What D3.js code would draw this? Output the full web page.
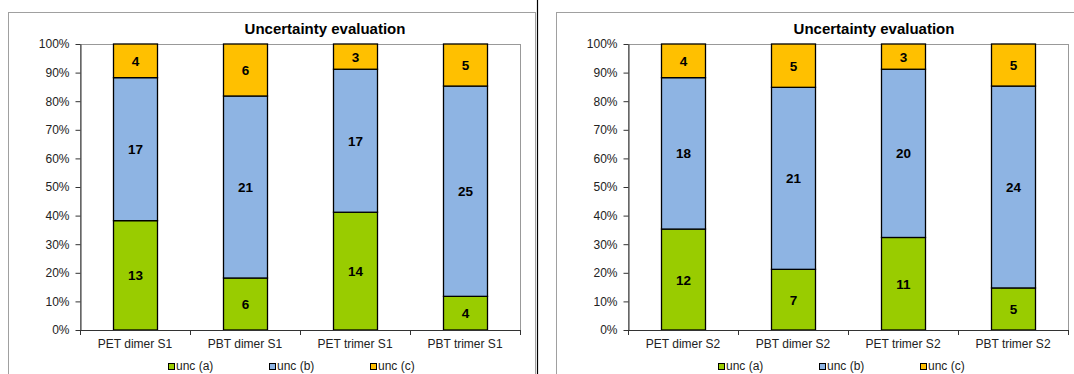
<!DOCTYPE html>
<html>
<head>
<meta charset="utf-8">
<script src="https://d3js.org/d3.v7.min.js"></script>
<style>
  body { margin: 0; background: #fff; }
  svg { display: block; font-family: "Liberation Sans", Arial, sans-serif; }
</style>
</head>
<body>
<svg id="chart" width="1074" height="374"></svg>
<script>
// ---- data ----
const title = "Uncertainty evaluation";
const seriesNames = ["unc (a)", "unc (b)", "unc (c)"];
const seriesColors = ["#99CC00", "#8EB4E3", "#FFC000"];
const yTicks = [0, 0.1, 0.2, 0.3, 0.4, 0.5, 0.6, 0.7, 0.8, 0.9, 1.0];

const categoriesS1 = ["PET dimer S1", "PBT dimer S1", "PET trimer S1", "PBT trimer S1"];
const uncA_S1 = [13, 6, 14, 4];
const uncB_S1 = [17, 21, 17, 25];
const uncC_S1 = [4, 6, 3, 5];

const categoriesS2 = ["PET dimer S2", "PBT dimer S2", "PET trimer S2", "PBT trimer S2"];
const uncA_S2 = [12, 7, 11, 5];
const uncB_S2 = [18, 21, 20, 24];
const uncC_S2 = [4, 5, 3, 5];

const svg = d3.select("#chart");

// panel frames
svg.append("rect").attr("x", 8.5).attr("y", 12.5).attr("width", 527).attr("height", 380)
  .attr("fill", "none").attr("stroke", "#a0a0a0");
svg.append("line").attr("x1", 537.5).attr("x2", 537.5).attr("y1", 0).attr("y2", 374)
  .attr("stroke", "#000").attr("stroke-width", 1.2);
svg.append("rect").attr("x", 556.5).attr("y", 12.5).attr("width", 540).attr("height", 380)
  .attr("fill", "none").attr("stroke", "#a0a0a0");

function drawPanel(cats, a, b, c, x0, x1, titleX, legendX0) {
  const top = 44, bottom = 330;
  const g = svg.append("g");
  const rows = cats.map((cat, i) => ({cat, a: a[i], b: b[i], c: c[i]}));
  const keys = ["a", "b", "c"];
  const stack = d3.stack().keys(keys).offset(d3.stackOffsetExpand);
  const series = stack(rows);

  const x = d3.scaleBand().domain(cats).range([x0, x1]).paddingInner(0.6).paddingOuter(0.3);
  const xb = d3.scaleBand().domain(cats).range([x0, x1]);
  const y = d3.scaleLinear().domain([0, 1]).range([bottom, top]);

  // plot area border
  g.append("rect").attr("x", x0 + 0.5).attr("y", top + 0.5)
    .attr("width", x1 - x0).attr("height", bottom - top)
    .attr("fill", "none").attr("stroke", "#999");

  // bars
  series.forEach((s, si) => {
    g.append("g").selectAll("rect").data(s).join("rect")
      .attr("x", d => Math.round(x(d.data.cat)) + 0.5)
      .attr("y", d => y(d[1]))
      .attr("width", x.bandwidth())
      .attr("height", d => y(d[0]) - y(d[1]))
      .attr("fill", seriesColors[si])
      .attr("stroke", "#000").attr("stroke-width", 1.3);
    g.append("g").selectAll("text").data(s).join("text")
      .attr("x", d => Math.round(x(d.data.cat)) + 0.5 + x.bandwidth() / 2)
      .attr("y", d => (y(d[0]) + y(d[1])) / 2 + 5)
      .attr("text-anchor", "middle")
      .attr("font-size", 13.5).attr("font-weight", "bold").attr("fill", "#000")
      .text(d => d.data[keys[si]]);
  });

  // y axis
  const yAxis = d3.axisLeft(y).tickValues(yTicks).tickFormat(d3.format(".0%"))
    .tickSizeInner(5).tickSizeOuter(0).tickPadding(6);
  const ya = g.append("g").attr("transform", `translate(${x0 + 0.5},0)`).call(yAxis);
  ya.selectAll("path, line").attr("stroke", "#333");
  ya.selectAll("text").attr("font-size", 12).attr("fill", "#222")
    .attr("font-family", "'Liberation Sans', Arial, sans-serif");

  // x axis (ticks at category boundaries)
  const boundaries = cats.map(cv => xb(cv)).concat([x1]);
  g.append("line").attr("x1", x0).attr("x2", x1).attr("y1", bottom + 0.5).attr("y2", bottom + 0.5)
    .attr("stroke", "#333");
  g.append("g").selectAll("line").data(boundaries).join("line")
    .attr("x1", d => Math.round(d) + 0.5).attr("x2", d => Math.round(d) + 0.5)
    .attr("y1", bottom).attr("y2", bottom + 5).attr("stroke", "#333");
  g.append("g").selectAll("text").data(cats).join("text")
    .attr("x", d => xb(d) + xb.bandwidth() / 2)
    .attr("y", 348)
    .attr("text-anchor", "middle").attr("font-size", 12).attr("fill", "#222")
    .text(d => d);

  // title
  g.append("text").attr("x", titleX).attr("y", 34).attr("text-anchor", "middle")
    .attr("font-size", 15).attr("font-weight", "bold").attr("fill", "#000").text(title);

  // legend
  const lg = g.append("g").selectAll("g").data(seriesNames).join("g")
    .attr("transform", (d, i) => `translate(${legendX0 + i * 101},0)`);
  lg.append("rect").attr("x", 0.5).attr("y", 363.5).attr("width", 6).attr("height", 6)
    .attr("fill", (d, i) => seriesColors[i]).attr("stroke", "#000");
  lg.append("text").attr("x", 8).attr("y", 370).attr("font-size", 12).attr("fill", "#222")
    .text(d => d);
}

drawPanel(categoriesS1, uncA_S1, uncB_S1, uncC_S1, 80, 520, 325, 168);
drawPanel(categoriesS2, uncA_S2, uncB_S2, uncC_S2, 628, 1068, 874, 718);
</script>
</body>
</html>
